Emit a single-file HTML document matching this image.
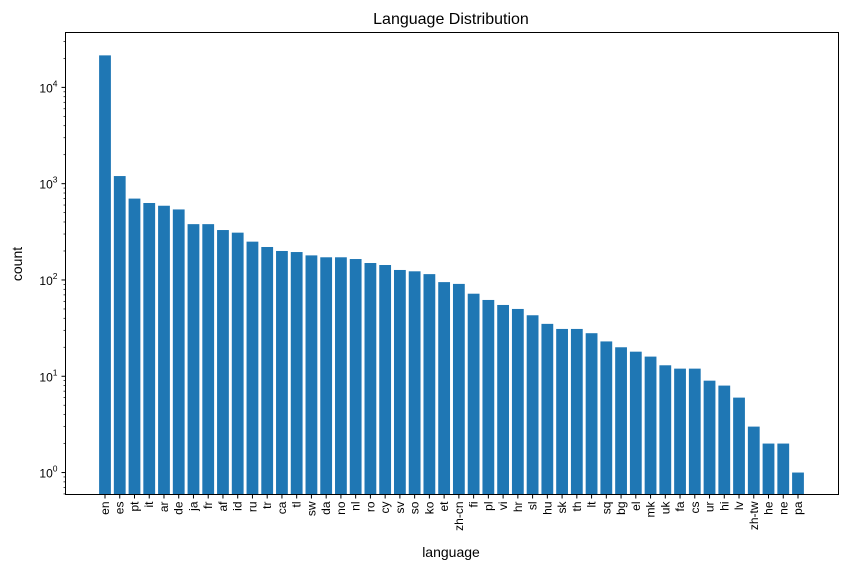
<!DOCTYPE html>
<html><head><meta charset="utf-8"><style>
body{margin:0;background:#fff;}
svg text{font-family:"Liberation Sans","DejaVu Sans",sans-serif;fill:#000;}
</style></head><body>
<svg id="chart" width="849" height="571" xmlns="http://www.w3.org/2000/svg">
<rect width="849" height="571" fill="#fff"/>
<text x="451" y="24" font-size="16" text-anchor="middle">Language Distribution</text>
<g id="bars"></g>
<g id="axes"></g>
<text x="451" y="557" font-size="14" text-anchor="middle">language</text>
<text x="22" y="264" font-size="14" text-anchor="middle" transform="rotate(-90 22 264)">count</text>
</svg>
<script>
const categories=["en","es","pt","it","ar","de","ja","fr","af","id","ru","tr","ca","tl","sw","da","no","nl","ro","cy","sv","so","ko","et","zh-cn","fi","pl","vi","hr","sl","hu","sk","th","lt","sq","bg","el","mk","uk","fa","cs","ur","hi","lv","zh-tw","he","ne","pa"];
const counts=[21500,1200,700,630,590,540,380,380,330,310,250,220,200,195,180,172,172,165,150,143,127,123,115,95,91,72,62,55,50,43,35,31,31,28,23,20,18,16,13,12,12,9,8,6,3,2,2,1];
const yTickExps=[0,1,2,3,4];
const NS="http://www.w3.org/2000/svg";
const L=65.5,R=838.5,T=32.5,B=494.5;
const logMin=-0.228,logMax=4.57;
function y(v){return B-(Math.log10(v)-logMin)/(logMax-logMin)*(B-T);}
const n=categories.length;
function x(i){const x0=105,x1=798;return x0+i*(x1-x0)/(n-1);}
const bw=0.8*(798-105)/(n-1);
function mk(tag,attrs,parent){const e=document.createElementNS(NS,tag);for(const k in attrs)e.setAttribute(k,attrs[k]);parent.appendChild(e);return e;}
const bars=document.getElementById('bars'),axes=document.getElementById('axes');
counts.forEach((v,i)=>{
 const r=mk('rect',{x:x(i)-bw/2,y:y(v),width:bw,height:B-y(v),fill:'#1f77b4'},bars);
 
 
 mk('line',{x1:x(i),x2:x(i),y1:B,y2:B+4,stroke:'#000','stroke-width':1},axes);
 const t=mk('text',{x:0,y:0,'font-size':12,'text-anchor':'end',transform:`translate(${x(i)+4},${B+7}) rotate(-90)`},axes);
 t.textContent=categories[i];
 
 
});
yTickExps.forEach(e=>{
 const yy=y(Math.pow(10,e));
 mk('line',{x1:L-4,x2:L,y1:yy,y2:yy,stroke:'#000','stroke-width':1},axes);
 const t=mk('text',{x:L-8,y:yy+5,'font-size':12,'text-anchor':'end'},axes);
 t.innerHTML='10<tspan dy="-6" font-size="8.5">'+e+'</tspan>';
 
 
});
for(let e=-1;e<=4;e++)for(let m=2;m<=9;m++){
 const v=m*Math.pow(10,e);const yy=y(v);
 if(yy<T||yy>B)continue;
 mk('line',{x1:L-2,x2:L,y1:yy,y2:yy,stroke:'#000','stroke-width':0.7},axes);
}
const f=mk('rect',{x:L,y:T,width:R-L,height:B-T,fill:'none',stroke:'#000','stroke-width':1},axes);


</script>
</body></html>
